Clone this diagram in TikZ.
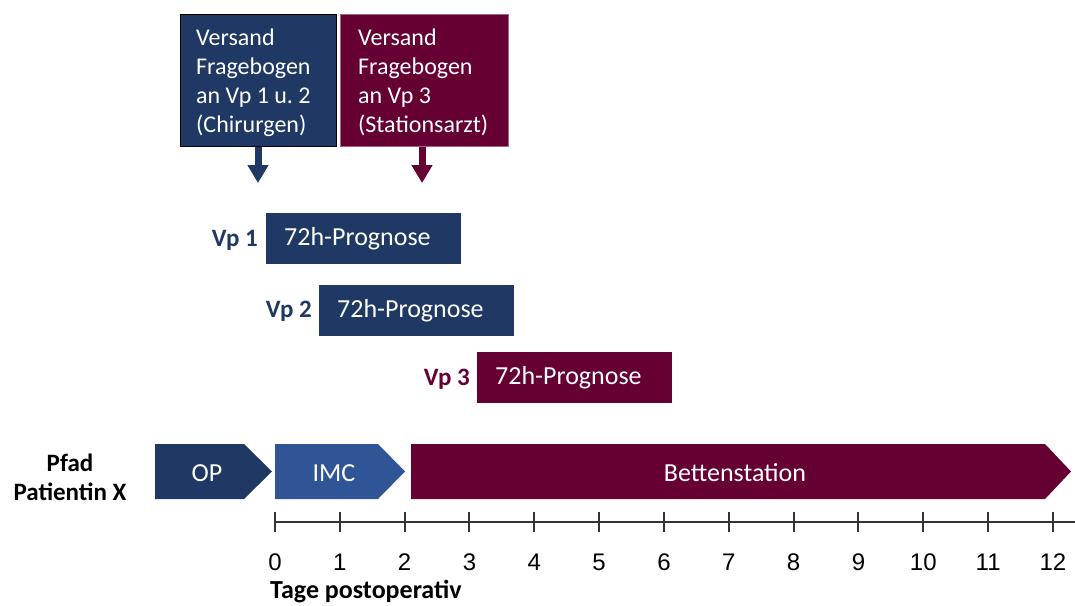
\documentclass[tikz,border=0pt]{standalone}
\usepackage{fontspec}
\setmainfont{Carlito}
\newfontfamily\arialfont{Liberation Sans}
\usetikzlibrary{arrows.meta,calc}
\definecolor{navy}{HTML}{1F3864}
\definecolor{imcblue}{HTML}{2F5597}
\definecolor{crimson}{HTML}{660033}
\definecolor{axisgray}{HTML}{333333}
\frenchspacing
\tikzset{
  topbox/.style={rectangle, minimum height=132, inner sep=0, anchor=north west},
  toptext/.style={text=white, align=left, inner sep=0, anchor=north west,
    font=\fontsize{24}{29}\selectfont},
  progbox/.style={rectangle, fill=#1, text=white, text width=159, inner xsep=18, align=left,
    minimum height=51, inner ysep=0, font=\fontsize{26}{30}\selectfont, anchor=north west},
  vplabel/.style={text=#1, font=\bfseries\fontsize{25}{29}\selectfont, anchor=east, inner sep=0},
  downarrow/.style={draw=#1, line width=7, -{Triangle[width=20,length=18]}},
  phasetext/.style={text=white, font=\fontsize{26}{30}\selectfont, inner sep=0},
  ticklabel/.style={font=\arialfont\fontsize{24}{26}\selectfont, inner sep=0},
}
\begin{document}
\begin{tikzpicture}[x=1pt,y=-1pt]
\useasboundingbox (0,0) rectangle (1075,605);
% top boxes
\node[topbox, fill=navy, draw=black, line width=1.2, minimum width=156] (b1) at (180,14) {};
\node[toptext] (b1t) at (196,29) {Versand\\Fragebogen\\an Vp 1 u. 2\\(Chirurgen)};
\node[topbox, fill=crimson, draw=crimson!60!white, line width=1, minimum width=168] (b2) at (340,14) {};
\node[toptext] (b2t) at (358,29) {Versand\\Fragebogen\\an Vp 3\\(Stationsarzt)};
\coordinate (a1) at (258,183);
\coordinate (a2) at (422,183);
\draw[downarrow=navy] (b1.south -| a1) -- (a1);
\draw[downarrow=crimson] (b2.south -| a2) -- (a2);
% prognosis boxes
\node[progbox=navy] (p1) at (266,213) {72h-Prognose};
\node[progbox=navy] (p2) at (319,285) {72h-Prognose};
\node[progbox=crimson] (p3) at (477,352) {72h-Prognose};
\node[vplabel=navy] (l1) at (258,240) {Vp 1};
\node[vplabel=navy] (l2) at (312,311) {Vp 2};
\node[vplabel=crimson] (l3) at (470,379) {Vp 3};
% path chevrons
\fill[navy] (155,444) -- (244,444) -- (272,471.5) -- (244,499) -- (155,499) -- cycle;
\node[phasetext] (op) at (207,473) {OP};
\fill[imcblue] (275,444) -- (378,444) -- (405,471.5) -- (378,499) -- (275,499) -- cycle;
\node[phasetext] (imc) at (334,473) {IMC};
\fill[crimson] (411,444) -- (1045,444) -- (1071,471.5) -- (1045,499) -- (411,499) -- cycle;
\node[phasetext] (bett) at (735,473) {Bettenstation};
\node[font=\bfseries\fontsize{25}{29}\selectfont, align=center, inner sep=0] (pfad) at (70,477) {Pfad\\Patientin X};
% axis
\coordinate (ax0) at (275,522);
\coordinate (axend) at (1075,522);
\draw[axisgray, line width=2] (ax0) -- (axend);
\foreach \i in {0,...,12} {
  \draw[axisgray, line width=2] ($(ax0)+(64.83*\i,-10)$) -- ++(0,20);
  \node[ticklabel] (t\i) at ($(ax0)+(64.83*\i,40)$) {\i};
}
\node[font=\bfseries\fontsize{26}{30}\selectfont, anchor=west, inner sep=0] (tage) at (270,592) {Tage postoperativ};
\end{tikzpicture}
\end{document}
